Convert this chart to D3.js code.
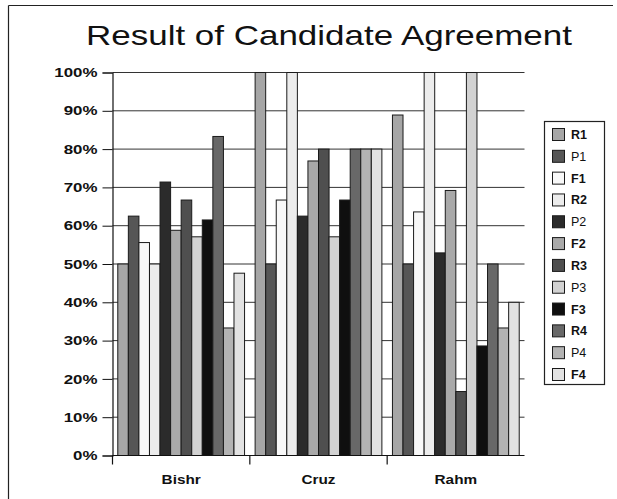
<!DOCTYPE html>
<html>
<head>
<meta charset="utf-8">
<script src="https://cdn.jsdelivr.net/npm/d3@7"></script>
<style>
  html, body { margin: 0; padding: 0; background: #fff; }
  svg { display: block; }
  text { font-family: "Liberation Sans", Arial, sans-serif; fill: #111; }
</style>
</head>
<body>
<svg id="chart" width="617" height="499"></svg>
<script>
const title = "Result of Candidate Agreement";
const categories = ["Bishr", "Cruz", "Rahm"];
const seriesNames = ["R1", "P1", "F1", "R2", "P2", "F2", "R3", "P3", "F3", "R4", "P4", "F4"];
const seriesColors = ["#a6a6a6", "#565656", "#f8f8f8", "#ececec", "#2b2b2b", "#a9a9a9",
                      "#4f4f4f", "#d2d2d2", "#0f0f0f", "#686868", "#b3b3b3", "#e2e2e2"];
const bishrValues = [0.50, 0.625, 0.556, 0.50, 0.714, 0.588, 0.667, 0.571, 0.615, 0.833, 0.333, 0.476];
const cruzValues  = [1.00, 0.50, 0.667, 1.00, 0.625, 0.769, 0.80, 0.571, 0.667, 0.80, 0.80, 0.80];
const rahmValues  = [0.889, 0.50, 0.636, 1.00, 0.529, 0.692, 0.167, 1.00, 0.286, 0.50, 0.333, 0.40];
const yTicks = [0, 0.1, 0.2, 0.3, 0.4, 0.5, 0.6, 0.7, 0.8, 0.9, 1.0];

(function () {
const valuesByCategory = [bishrValues, cruzValues, rahmValues];
const rows = categories.map((c, i) => ({
  cat: c,
  vals: seriesNames.map((s, j) => ({ key: s, value: valuesByCategory[i][j], color: seriesColors[j] }))
}));

const svg = d3.select("#chart");

// outer frame (top and left edges visible)
svg.append("line").attr("x1", 8.5).attr("x2", 613).attr("y1", 5.5).attr("y2", 5.5)
  .attr("stroke", "#222").attr("stroke-width", 1.2);
svg.append("line").attr("x1", 8.5).attr("x2", 8.5).attr("y1", 5.5).attr("y2", 499)
  .attr("stroke", "#222").attr("stroke-width", 1.2);

// title
svg.append("text")
  .attr("x", 329).attr("y", 45)
  .attr("text-anchor", "middle")
  .attr("font-size", 28)
  .attr("textLength", 486)
  .attr("lengthAdjust", "spacingAndGlyphs")
  .text(title);

const pLeft = 112.5, pRight = 524.5, pTop = 72.5, pBottom = 455.5;

const y = d3.scaleLinear().domain([0, 1]).range([pBottom, pTop]);
const x0 = d3.scaleBand().domain(categories).range([pLeft, pRight]).padding(0);
const x1 = d3.scaleBand().domain(seriesNames).range([0, x0.bandwidth()])
  .paddingInner(0).paddingOuter(0.5);

// gridlines
svg.append("g").selectAll("line").data(yTicks.filter(d => d > 0)).join("line")
  .attr("x1", pLeft).attr("x2", pRight)
  .attr("y1", d => y(d)).attr("y2", d => y(d))
  .attr("stroke", "#333").attr("stroke-width", 1);

// bars
const g = svg.append("g").selectAll("g").data(rows).join("g")
  .attr("transform", d => `translate(${x0(d.cat)},0)`);
g.selectAll("rect").data(d => d.vals).join("rect")
  .attr("x", d => x1(d.key))
  .attr("y", d => y(d.value))
  .attr("width", x1.bandwidth())
  .attr("height", d => y(0) - y(d.value))
  .attr("fill", d => d.color)
  .attr("stroke", "#1a1a1a").attr("stroke-width", 1);

// y axis
const yAxis = svg.append("g").attr("transform", `translate(${pLeft},0)`)
  .call(d3.axisLeft(y).tickValues(yTicks).tickFormat(d3.format(".0%")).tickSize(10).tickPadding(5));
yAxis.select(".domain").attr("stroke", "#111").attr("stroke-width", 1.2);
yAxis.selectAll(".tick line").attr("stroke", "#111");
yAxis.selectAll("text")
  .attr("font-size", 13).attr("font-weight", "bold")
  .attr("font-family", "Liberation Sans, Arial, sans-serif")
  .attr("fill", "#111")
  .each(function() {
    const t = d3.select(this);
    const xx = +t.attr("x");
    t.attr("x", null).attr("transform", `translate(${xx},0) scale(1.3,1)`);
  });

// x axis
const xAxisLine = svg.append("g").attr("transform", `translate(0,${pBottom})`);
xAxisLine.append("line").attr("x1", pLeft).attr("x2", pRight).attr("y1", 0).attr("y2", 0)
  .attr("stroke", "#111").attr("stroke-width", 1.2);
xAxisLine.selectAll(".bt").data(categories).join("line").attr("class", "bt")
  .attr("x1", d => x0(d)).attr("x2", d => x0(d))
  .attr("y1", 0).attr("y2", 9)
  .attr("stroke", "#111").attr("stroke-width", 1.2);
xAxisLine.selectAll(".cl").data(categories).join("text").attr("class", "cl")
  .attr("transform", d => `translate(${x0(d) + x0.bandwidth() / 2},28) scale(1.18,1)`)
  .attr("text-anchor", "middle")
  .attr("font-size", 13).attr("font-weight", "bold")
  .text(d => d);

// legend
const legend = svg.append("g");
legend.append("rect").attr("x", 544.5).attr("y", 121.5).attr("width", 60).attr("height", 263)
  .attr("fill", "#fff").attr("stroke", "#222").attr("stroke-width", 1.2);
const ly = d3.scalePoint().domain(seriesNames).range([134.5, 374.5]);
const li = legend.selectAll(".li").data(seriesNames).join("g").attr("class", "li")
  .attr("transform", d => `translate(0,${ly(d)})`);
li.append("rect").attr("x", 552.5).attr("y", -6).attr("width", 12).attr("height", 12)
  .attr("fill", (d, i) => seriesColors[i]).attr("stroke", "#1a1a1a").attr("stroke-width", 1);
li.append("text").attr("x", 571).attr("y", 4.5)
  .attr("font-size", 12.5)
  .attr("font-weight", d => d.startsWith("P") ? "normal" : "bold")
  .text(d => d);
})();
</script>
</body>
</html>
